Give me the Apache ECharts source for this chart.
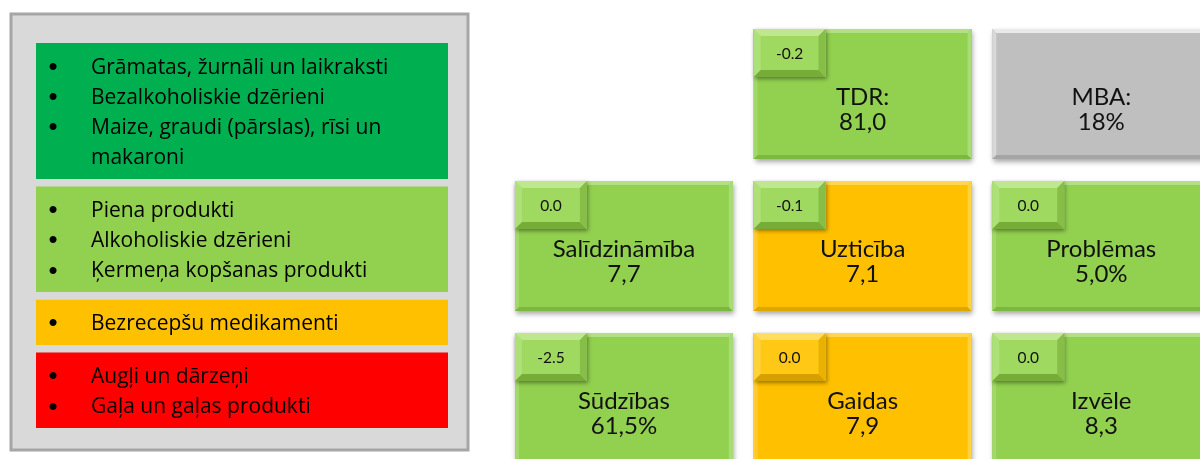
<!DOCTYPE html>
<html>
<head>
<meta charset="utf-8">
<script src="https://cdn.jsdelivr.net/npm/echarts@6/dist/echarts.min.js"></script>
<style>
  html, body { margin: 0; padding: 0; background: #fff; }
  #chart { width: 1200px; height: 459px; }
</style>
</head>
<body>
<div id="chart"></div>
<script>
// produktu grupas kreisajā panelī
const groupColors = ['#00B050', '#92D050', '#FFC000', '#FF0000'];
const groupItems = [
  ['Grāmatas, žurnāli un laikraksti', 'Bezalkoholiskie dzērieni', 'Maize, graudi (pārslas), rīsi un\nmakaroni'],
  ['Piena produkti', 'Alkoholiskie dzērieni', 'Ķermeņa kopšanas produkti'],
  ['Bezrecepšu medikamenti'],
  ['Augļi un dārzeņi', 'Gaļa un gaļas produkti']
];

// rādītāju flīzes labajā pusē
const tileNames = ['TDR:', 'MBA:', 'Salīdzināmība', 'Uzticība', 'Problēmas', 'Sūdzības', 'Gaidas', 'Izvēle'];
const tileValues = [81.0, 18, 7.7, 7.1, 5.0, 61.5, 7.9, 8.3];
const tileDecimals = [1, 0, 1, 1, 1, 1, 1, 1];
const tileUnits = ['', '%', '', '', '%', '%', '', ''];
const tileChanges = [-0.2, null, 0.0, -0.1, 0.0, -2.5, 0.0, 0.0];
const tileCols = [1, 2, 0, 1, 2, 0, 1, 2];
const tileRows = [0, 0, 1, 1, 1, 2, 2, 2];
const tileStatus = ['green', 'grey', 'green', 'amber', 'green', 'green', 'amber', 'green'];
const changeStatus = ['green', null, 'green', 'green', 'green', 'green', 'amber', 'green'];

const LIST_FONT = '"Open Sans"';
const TILE_FONT = 'Lato';
const LINE_PAD = 0.5, GROUP_GAP = 0.25;
const TILE_W = 0.913, TILE_H = 0.855;

const palette = {
  green: { base: '#92D050', top: '#B3E084', left: '#A2D86A', bottom: '#7BB841', right: '#A8DC78' },
  amber: { base: '#FFC000', top: '#FFD651', left: '#FFCB2E', bottom: '#DDA600', right: '#FFD040' },
  grey:  { base: '#BFBFBF', top: '#EAEAEA', left: '#D8D8D8', bottom: '#A5A5A5', right: '#CFCFCF' }
};
const badgePalette = {
  green: { base: '#9FD95F', top: '#BDE890', left: '#AEE07A', bottom: '#76AC3A', right: '#86BE48' },
  amber: { base: '#FFC814', top: '#FFDD5E', left: '#FFD23A', bottom: '#D6A000', right: '#E8B300' }
};

// grupu izvietojums (rindiņās)
let groupData = [], cursor = 0;
groupItems.forEach(function (items, gi) {
  let lines = 0;
  items.forEach(function (t) { lines += t.split('\n').length; });
  groupData.push([cursor, cursor + lines + LINE_PAD, gi]);
  cursor += lines + LINE_PAD + GROUP_GAP;
});
const groupTotal = cursor - GROUP_GAP;

function fmt(v, d) { return v.toFixed(d).replace('.', ','); }

function bevel(x, y, w, h, b, c) {
  return [
    { type: 'rect', shape: { x: x, y: y, width: w, height: h }, style: { fill: c.base } },
    { type: 'polygon', shape: { points: [[x, y], [x + w, y], [x + w - b, y + b], [x + b, y + b]] }, style: { fill: c.top } },
    { type: 'polygon', shape: { points: [[x, y], [x + b, y + b], [x + b, y + h - b], [x, y + h]] }, style: { fill: c.left } },
    { type: 'polygon', shape: { points: [[x, y + h], [x + b, y + h - b], [x + w - b, y + h - b], [x + w, y + h]] }, style: { fill: c.bottom } },
    { type: 'polygon', shape: { points: [[x + w, y], [x + w, y + h], [x + w - b, y + h - b], [x + w - b, y + b]] }, style: { fill: c.right } }
  ];
}

function renderGroup(params, api) {
  const start = api.value(0), end = api.value(1), gi = api.value(2);
  const p0 = api.coord([0, start]), p1 = api.coord([1, end]);
  const w = p1[0] - p0[0];
  const unit = (p1[1] - p0[1]) / (end - start);
  const children = [{
    type: 'rect',
    shape: { x: p0[0], y: p0[1], width: w, height: p1[1] - p0[1] },
    style: { fill: groupColors[gi] }
  }];
  let line = 0;
  groupItems[gi].forEach(function (item) {
    const y = p0[1] + (LINE_PAD / 2 + line + 0.5) * unit + 2;
    children.push({
      type: 'text',
      style: { x: p0[0] + 17, y: y, text: '•', fill: '#000', font: '26px Arial', align: 'center', verticalAlign: 'middle' }
    });
    item.split('\n').forEach(function (t) {
      const yy = p0[1] + (LINE_PAD / 2 + line + 0.5) * unit + 2;
      children.push({
        type: 'text',
        style: { x: p0[0] + 55, y: yy, text: t, fill: '#000', font: '21px ' + LIST_FONT, align: 'left', verticalAlign: 'middle' }
      });
      line++;
    });
  });
  return { type: 'group', children: children };
}

function renderTile(params, api) {
  const i = api.value(2);
  const p0 = api.coord([api.value(0), api.value(1)]);
  const p1 = api.coord([api.value(0) + TILE_W, api.value(1) + TILE_H]);
  const x = p0[0], y = p0[1], w = p1[0] - p0[0], h = p1[1] - p0[1];
  const c = palette[tileStatus[i]];
  let children = [{
    type: 'rect',
    shape: { x: x, y: y, width: w, height: h },
    style: { fill: c.base, shadowBlur: 5, shadowOffsetX: 1, shadowOffsetY: 3, shadowColor: 'rgba(0,0,0,0.35)' }
  }];
  children = children.concat(bevel(x, y, w, h, 4, c));
  children.push({
    type: 'text',
    style: { x: x + w / 2, y: y + h * 0.525, text: tileNames[i], fill: '#111', font: '24px ' + TILE_FONT, align: 'center', verticalAlign: 'middle' }
  });
  children.push({
    type: 'text',
    style: { x: x + w / 2, y: y + h * 0.72, text: fmt(tileValues[i], tileDecimals[i]) + tileUnits[i], fill: '#111', font: '24px ' + TILE_FONT, align: 'center', verticalAlign: 'middle' }
  });
  if (tileChanges[i] !== null) {
    const bw = w * 0.33, bh = h * 0.37;
    const bc = badgePalette[changeStatus[i]];
    children.push({
      type: 'rect',
      shape: { x: x, y: y, width: bw, height: bh },
      style: { fill: bc.base, shadowBlur: 4, shadowOffsetX: 1, shadowOffsetY: 2, shadowColor: 'rgba(0,0,0,0.4)' }
    });
    children = children.concat(bevel(x, y, bw, bh, 7, bc));
    children.push({
      type: 'text',
      style: { x: x + bw / 2, y: y + bh / 2 + 1, text: tileChanges[i].toFixed(1), fill: '#111', font: '15.5px ' + TILE_FONT, align: 'center', verticalAlign: 'middle' }
    });
  }
  return { type: 'group', children: children };
}

const chart = echarts.init(document.getElementById('chart'), null, { renderer: 'canvas' });
chart.setOption({
  animation: false,
  backgroundColor: '#fff',
  graphic: [{
    type: 'rect', z: -10,
    shape: { x: 11, y: 14, width: 457, height: 436 },
    style: { fill: '#D9D9D9', stroke: '#A6A6A6', lineWidth: 3 }
  }],
  grid: [
    { left: 36, top: 43, width: 412, height: 385, outerBoundsMode: 'none' },
    { left: 515, top: 29, width: 716, height: 456, outerBoundsMode: 'none' }
  ],
  xAxis: [
    { type: 'value', gridIndex: 0, min: 0, max: 1, show: false },
    { type: 'value', gridIndex: 1, min: 0, max: 3, show: false }
  ],
  yAxis: [
    { type: 'value', gridIndex: 0, min: 0, max: groupTotal, inverse: true, show: false },
    { type: 'value', gridIndex: 1, min: 0, max: 3, inverse: true, show: false }
  ],
  series: [
    {
      type: 'custom', xAxisIndex: 0, yAxisIndex: 0,
      renderItem: renderGroup,
      encode: { x: [], y: [0, 1] },
      data: groupData
    },
    {
      type: 'custom', xAxisIndex: 1, yAxisIndex: 1,
      renderItem: renderTile,
      encode: { x: 0, y: 1 },
      data: tileCols.map(function (c, i) { return [c, tileRows[i], i]; })
    }
  ]
});
</script>
</body>
</html>
